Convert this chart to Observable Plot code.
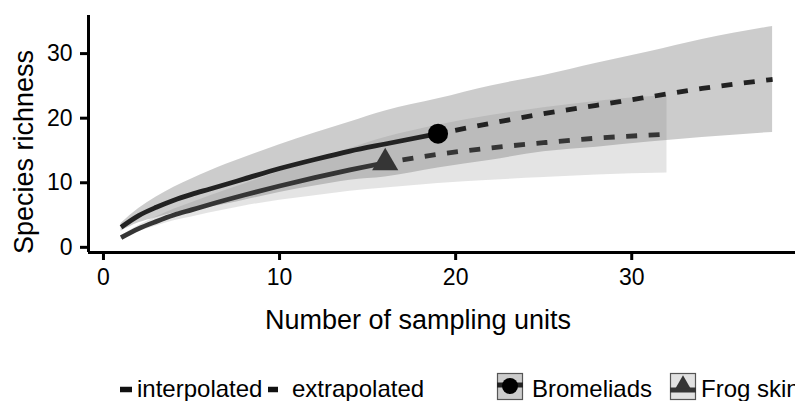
<!DOCTYPE html>
<html><head><meta charset="utf-8">
<script src="https://cdn.jsdelivr.net/npm/d3@7"></script>
<script src="https://cdn.jsdelivr.net/npm/@observablehq/plot@0.6"></script>
<style>
body{margin:0;background:#fff;font-family:"Liberation Sans",Arial,sans-serif;}
#wrap{position:relative;width:795px;height:401px;overflow:hidden;}
#chart svg{display:block;}
</style></head>
<body><div id="wrap"><div id="chart"></div><div id="legend"></div></div>
<script>
const xTicks = [0, 10, 20, 30];
const yTicks = [0, 10, 20, 30];
const assemblages = ["Bromeliads", "Frog skin"];
const methods = ["interpolated", "extrapolated"];

const bromObserved = 19;
const bromX  = [1,2,3,4,5,6,8,10,12,14,16,19,22,25,28,31,34,38];
const bromY  = [3.1,4.9,6.2,7.3,8.2,9.0,10.6,12.2,13.6,14.9,16.0,17.6,19.2,20.7,22.0,23.3,24.6,26.0];
const bromLo = [2.5,3.8,4.6,5.3,5.8,6.2,7.3,8.5,9.5,10.4,10.9,12.3,13.5,14.8,15.5,16.3,17.0,17.8];
const bromHi = [3.7,6.0,7.8,9.3,10.6,11.8,13.9,15.9,17.7,19.4,21.1,23.0,25.0,26.6,28.5,30.3,32.2,34.2];

const frogObserved = 16;
const frogX  = [1,2,3,4,5,6,8,10,12,14,16,19,22,25,28,32];
const frogY  = [1.5,2.9,4.0,5.0,5.8,6.6,8.1,9.5,10.8,12.0,13.1,14.4,15.4,16.2,16.9,17.5];
const frogLo = [1.2,2.4,3.3,4.1,4.7,5.3,6.4,7.3,8.0,8.7,9.2,9.9,10.4,10.8,11.2,11.5];
const frogHi = [1.8,3.4,4.7,5.9,6.9,7.9,9.8,11.7,13.6,15.3,17.0,18.9,20.4,21.6,22.6,23.5];

function rowsOf(name, xs, ys, lo, hi, obs) {
  return xs.map((x, i) => ({assemblage: name, x, y: ys[i], lo: lo[i], hi: hi[i],
    interp: x <= obs, extrap: x >= obs, observed: x === obs}));
}
const brom = rowsOf(assemblages[0], bromX, bromY, bromLo, bromHi, bromObserved);
const frog = rowsOf(assemblages[1], frogX, frogY, frogLo, frogHi, frogObserved);
const all = brom.concat(frog);

const colors = {"Bromeliads": "#222222", "Frog skin": "#353535"};
const font = "Liberation Sans, Arial, sans-serif";

const chart = Plot.plot({
  width: 795, height: 345,
  marginLeft: 88, marginRight: 0, marginTop: 15, marginBottom: 93,
  style: {fontFamily: font, background: "#fff", color: "#000"},
  x: {domain: [-0.85, 39.3], axis: null},
  y: {domain: [-0.8, 35.9], axis: null},
  marks: [
    Plot.areaY(brom, {x: "x", y1: "lo", y2: "hi", fill: "#000", fillOpacity: 0.2, curve: "monotone-x"}),
    Plot.areaY(frog, {x: "x", y1: "lo", y2: "hi", fill: "#7a7a7a", fillOpacity: 0.2, curve: "monotone-x"}),
    Plot.line(all.filter(d => d.interp), {x: "x", y: "y", z: "assemblage", stroke: d => colors[d.assemblage],
      strokeWidth: 4.8, strokeLinecap: "butt", curve: "monotone-x"}),
    Plot.line(all.filter(d => d.extrap), {x: "x", y: "y", z: "assemblage", stroke: d => colors[d.assemblage],
      strokeWidth: 4.8, strokeLinecap: "butt", strokeDasharray: "11,11.5", strokeDashoffset: 5, curve: "monotone-x"}),
    Plot.dot(brom.filter(d => d.observed), {x: "x", y: "y", r: 10, symbol: "circle", fill: "#000", stroke: "none"}),
    Plot.dot(frog.filter(d => d.observed), {x: "x", y: "y", r: 9.7, symbol: "triangle", fill: "#353535", stroke: "none"}),
    Plot.ruleX([-0.85], {stroke: "#000", strokeWidth: 3}),
    Plot.ruleY([-0.8], {stroke: "#000", strokeWidth: 3}),
    Plot.axisX(xTicks, {tickSize: 8, tickPadding: 8, fontSize: 23, strokeWidth: 3, color: "#000", label: null, tickFormat: d => String(d)}),
    Plot.axisY(yTicks, {tickSize: 8, tickPadding: 8, fontSize: 23, strokeWidth: 3, color: "#000", label: null, tickFormat: d => String(d)}),
    Plot.text(["Number of sampling units"], {frameAnchor: "bottom", dx: -24, dy: 57, lineAnchor: "top", textAnchor: "middle", fontSize: 27, fill: "#000"}),
    Plot.text(["Species richness"], {frameAnchor: "left", rotate: -90, dx: -75, dy: 18, lineAnchor: "top", textAnchor: "middle", fontSize: 27, fill: "#000"})
  ]
});
document.getElementById("chart").appendChild(chart);

// legend below the plot
const lg = d3.select("#legend").append("svg").attr("width", 795).attr("height", 56)
  .style("display", "block").style("font-family", font);
const oy = 345;
lg.append("line").attr("x1", 120).attr("x2", 132).attr("y1", 389.5 - oy).attr("y2", 389.5 - oy)
  .attr("stroke", "#111").attr("stroke-width", 5.5);
lg.append("text").attr("x", 137).attr("y", 397 - oy).attr("font-size", 24).text(methods[0]);
lg.append("line").attr("x1", 268).attr("x2", 278).attr("y1", 389.5 - oy).attr("y2", 389.5 - oy)
  .attr("stroke", "#111").attr("stroke-width", 5.5);
lg.append("text").attr("x", 292).attr("y", 397 - oy).attr("font-size", 24).text(methods[1]);

// Bromeliads key
lg.append("rect").attr("x", 497.5).attr("y", 373.5 - oy).attr("width", 25).attr("height", 26)
  .attr("fill", "#cccccc").attr("stroke", "#555").attr("stroke-width", 1.2);
lg.append("line").attr("x1", 497).attr("x2", 523).attr("y1", 385 - oy).attr("y2", 385 - oy)
  .attr("stroke", "#222").attr("stroke-width", 5);
lg.append("path").attr("d", d3.symbol(d3.symbolCircle, Math.PI * 8 * 8)())
  .attr("transform", `translate(510,${386 - oy})`).attr("fill", "#000");
lg.append("text").attr("x", 532).attr("y", 397 - oy).attr("font-size", 24).text(assemblages[0]);

// Frog skin key
lg.append("rect").attr("x", 670.5).attr("y", 373.5 - oy).attr("width", 25).attr("height", 26)
  .attr("fill", "#e2e2e2").attr("stroke", "#555").attr("stroke-width", 1.2);
lg.append("line").attr("x1", 670).attr("x2", 696).attr("y1", 390 - oy).attr("y2", 390 - oy)
  .attr("stroke", "#353535").attr("stroke-width", 5);
lg.append("path").attr("d", d3.symbol(d3.symbolTriangle, 100)())
  .attr("transform", `translate(683,${384 - oy})`).attr("fill", "#353535");
lg.append("text").attr("x", 701).attr("y", 397 - oy).attr("font-size", 24).text(assemblages[1]);
</script>
</body></html>
